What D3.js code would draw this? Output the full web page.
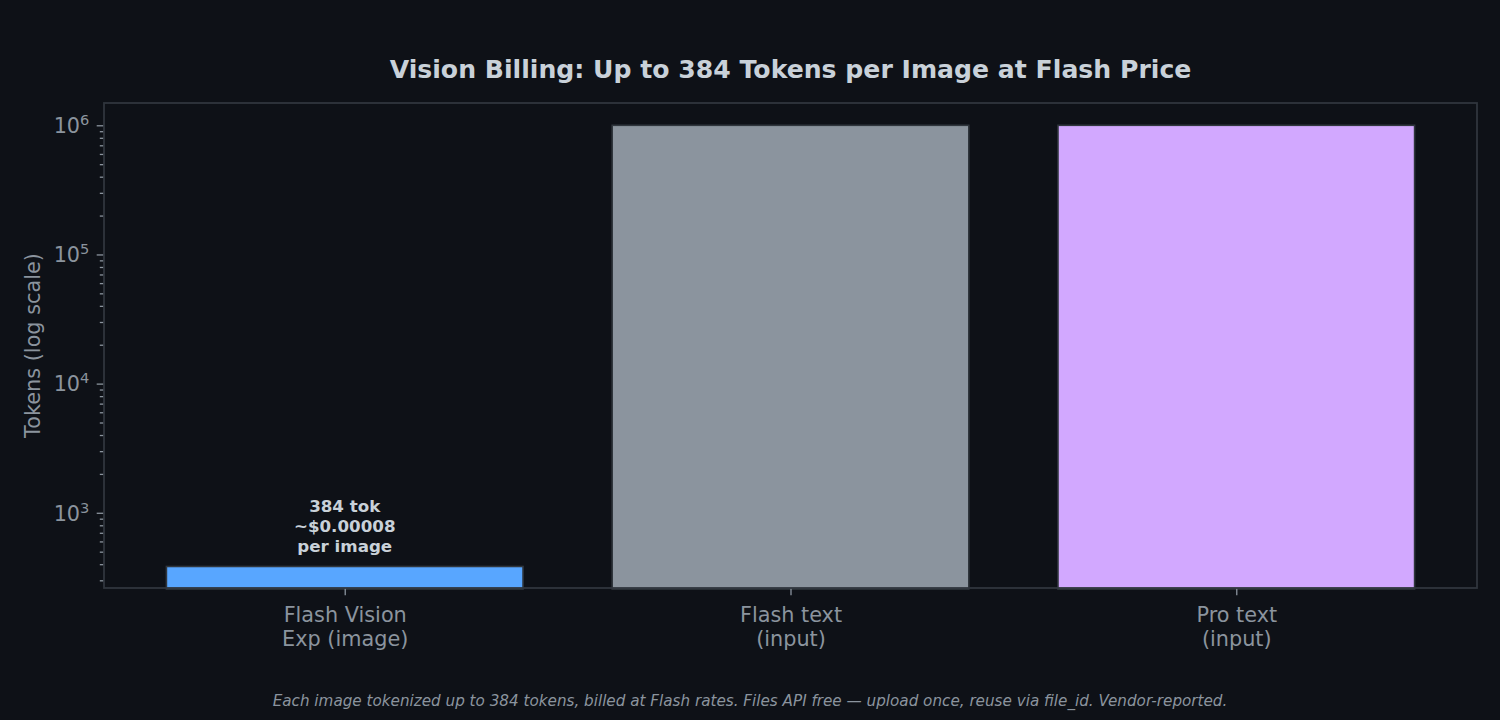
<!DOCTYPE html>
<html>
<head>
<meta charset="utf-8">
<script src="https://cdn.jsdelivr.net/npm/d3@7"></script>
<style>
  html, body { margin: 0; padding: 0; background: #0e1117; }
  svg { display: block; font-family: "DejaVu Sans", sans-serif; }
</style>
</head>
<body>
<div id="chart"></div>
<script>
// data
const categories = ["Flash Vision\nExp (image)", "Flash text\n(input)", "Pro text\n(input)"];
const tokens = [384, 1000000, 1000000];
const barColors = ["#58a6ff", "#8b949e", "#d2a8ff"];
const annotation = ["384 tok", "~$0.00008", "per image"];
const majorTicks = [1e3, 1e4, 1e5, 1e6];

const title = "Vision Billing: Up to 384 Tokens per Image at Flash Price";
const yLabel = "Tokens (log scale)";
const footer = "Each image tokenized up to 384 tokens, billed at Flash rates. Files API free \u2014 upload once, reuse via file_id. Vendor-reported.";

const W = 1500, H = 720;
const margin = {top: 103, right: 23, bottom: 132, left: 104};
const width = W - margin.left - margin.right,
      height = H - margin.top - margin.bottom;

const svg = d3.select("#chart").append("svg")
  .attr("width", W).attr("height", H);

svg.append("rect").attr("width", W).attr("height", H).attr("fill", "#0e1117");

const g = svg.append("g")
  .attr("transform", "translate(" + margin.left + "," + margin.top + ")");

// scales
const x = d3.scaleLinear().domain([-0.54, categories.length - 1 + 0.54]).range([0, width]);
const y = d3.scaleLog().domain([261.6, 1.488e6]).range([height, 0]);
const barW = x(0.8) - x(0);

// bars (log scale: start at bottom of axis)
g.selectAll("rect.bar")
  .data(tokens)
  .join("rect")
  .attr("class", "bar")
  .attr("x", (d, i) => x(i) - barW / 2)
  .attr("width", barW)
  .attr("y", d => y(d))
  .attr("height", d => height - y(d) + 1)
  .attr("fill", (d, i) => barColors[i])
  .attr("stroke", "#30363d")
  .attr("stroke-width", 1.6);

// annotation above first bar
const ann = g.append("text")
  .attr("x", x(0))
  .attr("text-anchor", "middle")
  .attr("fill", "#c9d1d9")
  .attr("font-weight", "bold")
  .attr("font-size", 16.7);
annotation.forEach((t, i) => {
  ann.append("tspan")
    .attr("x", x(0))
    .attr("y", y(tokens[0]) - 14 - (annotation.length - 1 - i) * 20)
    .text(t);
});

// y axis minor ticks
const [lo, hi] = y.domain();
const minor = [];
for (let e = Math.floor(Math.log10(lo)); e <= Math.ceil(Math.log10(hi)); e++) {
  for (let m = 2; m <= 9; m++) {
    const v = m * Math.pow(10, e);
    if (v >= lo && v <= hi) minor.push(v);
  }
}
const yMinor = g.append("g")
  .call(d3.axisLeft(y).tickValues(minor).tickSize(4.2).tickFormat(""));

const yMajor = g.append("g")
  .call(d3.axisLeft(y).tickValues(majorTicks).tickSize(7.3).tickPadding(7.3).tickFormat(""));

[yMinor, yMajor].forEach(a => {
  a.select(".domain").remove();
  a.selectAll(".tick line").attr("stroke", "#8b949e").attr("stroke-width", 1.3);
});

yMajor.selectAll(".tick text").each(function(d) {
  const t = d3.select(this)
    .attr("fill", "#8b949e")
    .attr("font-size", 20.8)
    .attr("font-family", "DejaVu Sans")
    .attr("dy", "0.35em");
  t.append("tspan").text("10");
  t.append("tspan").attr("dy", "-0.55em").attr("font-size", 14.6).text(Math.round(Math.log10(d)));
});

// x axis
const xAxis = g.append("g")
  .attr("transform", "translate(0," + height + ")")
  .call(d3.axisBottom(x).tickValues(d3.range(categories.length)).tickSize(7.3).tickFormat(""));
xAxis.select(".domain").remove();
xAxis.selectAll(".tick line").attr("stroke", "#8b949e").attr("stroke-width", 1.3);
xAxis.selectAll(".tick text").each(function(d) {
  const t = d3.select(this)
    .attr("fill", "#8b949e")
    .attr("font-size", 20.8)
    .attr("font-family", "DejaVu Sans")
    .attr("y", 0)
    .attr("dy", null);
  categories[d].split("\n").forEach((line, i) => {
    t.append("tspan").attr("x", 0).attr("y", 33.5 + i * 24.5).text(line);
  });
});

// frame (spines)
g.append("rect")
  .attr("width", width).attr("height", height)
  .attr("fill", "none")
  .attr("stroke", "#30363d")
  .attr("stroke-width", 1.8);

// y label
svg.append("text")
  .attr("transform", "translate(40," + (margin.top + height / 2) + ") rotate(-90)")
  .attr("text-anchor", "middle")
  .attr("fill", "#8b949e")
  .attr("font-size", 20.8)
  .text(yLabel);

// title
svg.append("text")
  .attr("x", margin.left + width / 2)
  .attr("y", 78)
  .attr("text-anchor", "middle")
  .attr("fill", "#c9d1d9")
  .attr("font-weight", "bold")
  .attr("font-size", 25.15)
  .text(title);

// footer
svg.append("text")
  .attr("x", W / 2)
  .attr("y", 706)
  .attr("text-anchor", "middle")
  .attr("fill", "#8b949e")
  .attr("font-style", "italic")
  .attr("font-size", 15.2)
  .text(footer);
</script>
</body>
</html>
